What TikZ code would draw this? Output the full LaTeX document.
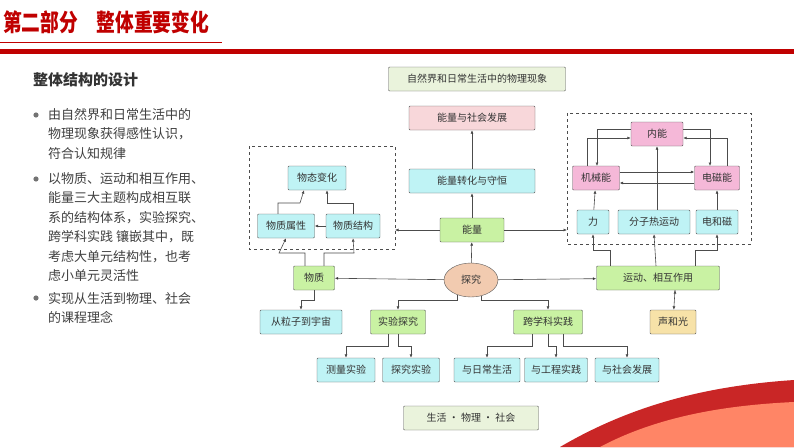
\documentclass[tikz,border=0pt]{standalone}
\usepackage{fontspec}
\setmainfont{Noto Sans CJK SC}
\usetikzlibrary{arrows.meta,shapes.geometric}
\definecolor{titlered}{HTML}{C00000}
\definecolor{pale}{HTML}{EAF3DC}
\definecolor{cyanbox}{HTML}{BFF3F5}
\definecolor{greenbox}{HTML}{C9F2A3}
\definecolor{pinkbox}{HTML}{F5B8D8}
\definecolor{rosebox}{HTML}{F8D7DA}
\definecolor{tanbox}{HTML}{F2CBB0}
\definecolor{sandbox}{HTML}{F7E2A8}
\tikzset{
  box/.style={draw=black!65, rounded corners=1pt, minimum height=24, inner sep=0, font=\fontsize{10}{12}\selectfont, text=black!80},
  link/.style={draw=black!70, line width=0.6pt, -{Latex[length=3.5pt,width=3pt]}},
  group/.style={draw=black!70, dashed, line width=0.6pt},
  bullettext/.style={anchor=west, font=\fontsize{13}{19.5}\selectfont, text=black!75, align=left, inner sep=0}
}
\begin{document}
\begin{tikzpicture}[x=1pt, y=-1pt]
\useasboundingbox (0,0) rectangle (794,447);
\fill[white] (0,0) rectangle (794,447);
% header
\node (title)[anchor=west, text=titlered, font=\fontsize{24}{28}\selectfont\bfseries, inner sep=0, xscale=0.78] at (3,22) {第二部分\hspace{1em}整体重要变化};
\draw[titlered, line width=0.8pt] (0,42) -- (222,42);
\fill[titlered] (0,49) rectangle (794,54);
% corner swoosh
\fill[titlered!85] (560,447) .. controls (640,400) and (720,385) .. (794,380) -- (794,447) -- cycle;
\fill[red!60!orange!60] (600,447) .. controls (660,415) and (730,405) .. (794,402) -- (794,447) -- cycle;
% left text
\node (head)[anchor=west, font=\fontsize{15}{18}\selectfont\bfseries, text=black!80, inner sep=0] at (33,80) {整体结构的设计};
\foreach \y in {115,179,298} \fill[black!55] (36,\y) circle (2.6);
\node (t1)[bullettext] at (48,134) {由自然界和日常生活中的\\物理现象获得感性认识，\\符合认知规律};
\node (t2)[bullettext] at (48,227) {以物质、运动和相互作用、\\能量三大主题构成相互联\\系的结构体系，实验探究、\\跨学科实践 镶嵌其中，既\\考虑大单元结构性，也考\\虑小单元灵活性};
\node (t3)[bullettext] at (48,308) {实现从生活到物理、社会\\的课程理念};
% groups
\draw[group] (249,146) rectangle (395,249);
\draw[group] (567,113) rectangle (751,244);
% nodes
\node (xx)[box, fill=pale, minimum width=177] at (477,79) {自然界和日常生活中的物理现象};
\node (nsh)[box, fill=rosebox, minimum width=126] at (472,118) {能量与社会发展};
\node (nzh)[box, fill=cyanbox, minimum width=126] at (472,181) {能量转化与守恒};
\node (nl)[box, fill=greenbox, minimum width=64] at (472,230) {能量};
\node (wtbh)[box, fill=cyanbox, minimum width=58] at (317,178) {物态变化};
\node (wzsx)[box, fill=cyanbox, minimum width=57] at (286,226) {物质属性};
\node (wzjg)[box, fill=cyanbox, minimum width=54] at (353,226) {物质结构};
\node (nn)[box, fill=pinkbox, minimum width=52] at (657,134) {内能};
\node (jxn)[box, fill=pinkbox, minimum width=47] at (596,178) {机械能};
\node (dcn)[box, fill=pinkbox, minimum width=45] at (717,178) {电磁能};
\node (li)[box, fill=cyanbox, minimum width=32] at (593,222) {力};
\node (fz)[box, fill=cyanbox, minimum width=72] at (654,222) {分子热运动};
\node (dhc)[box, fill=cyanbox, minimum width=42] at (717,222) {电和磁};
\node (wz)[box, fill=greenbox, minimum width=41] at (314,278) {物质};
\node (tj)[box, ellipse, fill=tanbox, minimum width=54, minimum height=34] at (471,280) {探究};
\node (yd)[box, fill=greenbox, minimum width=123] at (658,278) {运动、相互作用};
\node (lz)[box, fill=cyanbox, minimum width=82] at (301,322) {从粒子到宇宙};
\node (sy)[box, fill=greenbox, minimum width=55] at (398,322) {实验探究};
\node (kx)[box, fill=greenbox, minimum width=69] at (548,322) {跨学科实践};
\node (sg)[box, fill=sandbox, minimum width=46] at (673,322) {声和光};
\node (cl)[box, fill=cyanbox, minimum width=58] at (346,370) {测量实验};
\node (tjsy)[box, fill=cyanbox, minimum width=57] at (411,370) {探究实验};
\node (rc)[box, fill=cyanbox, minimum width=66] at (487,370) {与日常生活};
\node (gc)[box, fill=cyanbox, minimum width=63] at (556,370) {与工程实践};
\node (sh)[box, fill=cyanbox, minimum width=64] at (627,370) {与社会发展};
\node (shwl)[box, fill=pale, minimum width=135] at (471,418) {生活 · 物理 · 社会};
% connectors
\path[link] (tj) edge (nl)
  (nl) edge (nzh)
  (nzh) edge (nsh)
  (tj) edge (wz)
  (tj) edge (yd)
  (wzjg) edge (wzsx)
  (li) edge (jxn)
  (dhc) edge (dcn)
  (fz.north -| nn.south) edge (nn)
  ([yshift=-5]dcn.west) edge ([yshift=-5]jxn.east)
  ([yshift=6]jxn.east) edge ([yshift=6]dcn.west)
  ([xshift=17]yd.south) edge (sg);
\draw[link] (nl.west) -- (395,230);
\draw[link] (nl.east) -- (567,230);
\draw[link] ([xshift=-8]wzsx.north) |- (300,203) -- ([xshift=-13]wtbh.south);
\draw[link] (wzjg.north) |- (327,203) -- ([xshift=10]wtbh.south);
\draw[link] ([xshift=-9]wz.north) |- (279,253) -- (wzsx.south);
\draw[link] ([xshift=10]wz.north) |- (354,253) -- (wzjg.south);
\draw[link] (wz.south) |- (301,300) -- (lz.north);
\draw[link] (457,295) |- (398,300) -- (sy.north);
\draw[link] (481,296) |- (548,300) -- (kx.north);
\draw[link] (610,266) |- (593,250) -- (li.south);
\draw[link] (656,266) -- (fz.south);
\draw[link] (695,266) |- (717,250) -- (dhc.south);
\draw[link] (388,334) |- (346,346) -- (cl.north);
\draw[link] (398,334) |- (411,346) -- (tjsy.north);
\draw[link] (532,334) |- (487,346) -- (rc.north);
\draw[link] (548,334) |- (556,346) -- (gc.north);
\draw[link] (563,334) |- (627,346) -- (sh.north);
\draw[link] (587,166) |- ([yshift=-4]nn.west);
\draw[link] ([yshift=5]nn.west) -| (597,166);
\draw[link] ([yshift=5]nn.east) -| (710,166);
\draw[link] (727,166) |- ([yshift=-4]nn.east);
\end{tikzpicture}
\end{document}
